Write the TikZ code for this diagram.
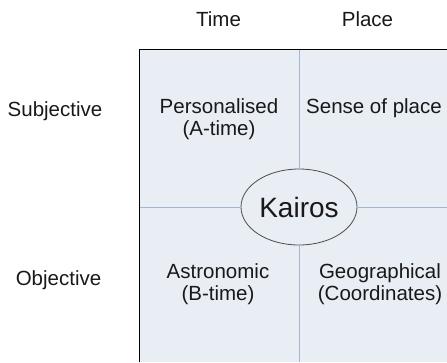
\documentclass[tikz,border=0pt]{standalone}
\usepackage{fontspec}
\setmainfont{Liberation Sans}
\usetikzlibrary{shapes.geometric}
\definecolor{cellfill}{HTML}{E9EDF4}
\definecolor{divider}{HTML}{A3B6D2}
\begin{document}
\begin{tikzpicture}[x=1pt,y=-1pt,
  lbl/.style={font=\fontsize{20.5}{22}\selectfont, align=center, inner sep=0pt, text=black!90},
  divline/.style={draw=divider, line width=1pt}]
\useasboundingbox (0,0) rectangle (447,362);
\fill[cellfill] (139,49) rectangle (447,362);
\coordinate (top) at (299,49);
\coordinate (bot) at (299,362);
\coordinate (lft) at (139,207);
\coordinate (rgt) at (447,207);
\node[ellipse, draw=black!70, fill=cellfill, line width=0.8pt, minimum width=116pt, minimum height=76pt, inner sep=0pt] (kairos) at (299,207) {};
\node[font=\fontsize{28}{32}\selectfont, text=black!90] at (kairos.center) {Kairos};
\draw[divline] (top) -- (kairos.north);
\draw[divline] (kairos.south) -- (bot);
\draw[divline] (lft) -- (kairos.west);
\draw[divline] (kairos.east) -- (rgt);
\draw[black, line width=1pt] (139,362) -- (139,49) -- (447,49);
\node[lbl] (time) at (218.5,19) {Time};
\node[lbl] (place) at (367.5,19) {Place};
\node[lbl] (subj) at (55,111) {Subjective};
\node[lbl] (obj) at (58.5,280) {Objective};
\node[lbl] (pers) at (219,119) {Personalised\\(A-time)};
\node[lbl] (sense) at (374,108) {Sense of place};
\node[lbl] (astro) at (218,284.5) {Astronomic\\(B-time)};
\node[lbl] (geo) at (380,284.5) {Geographical\\(Coordinates)};
\end{tikzpicture}
\end{document}
